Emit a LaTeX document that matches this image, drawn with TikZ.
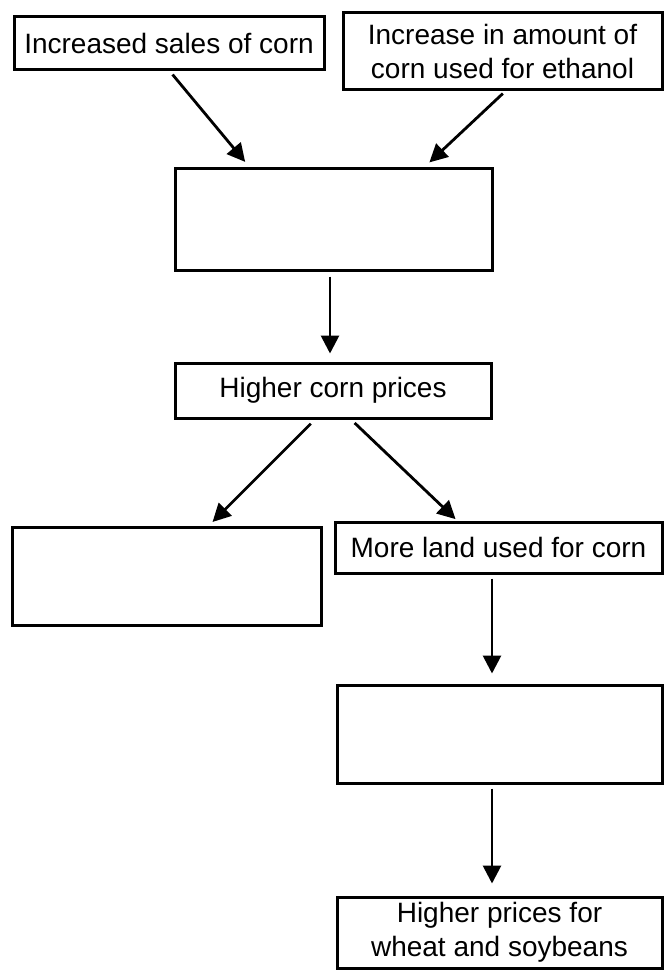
\documentclass[tikz,border=0pt]{standalone}
\usepackage{fontspec}
\setmainfont{Liberation Sans}
\usetikzlibrary{arrows.meta}
\begin{document}
\begin{tikzpicture}[x=1pt,y=-1pt,
  box/.style={draw=black, line width=3pt, inner sep=0pt, align=center,
    font=\fontsize{28}{34}\selectfont},
  arr/.style={line width=2.8pt, -{Triangle[length=18pt,width=18pt]}}]
\useasboundingbox (0,0) rectangle (668,971);
\fill[white] (0,0) rectangle (668,971);
\node[box, minimum width=310pt, minimum height=53pt] (b1) at (169,43.5) {Increased sales of corn};
\node[box, minimum width=319pt, minimum height=77pt] (b2) at (502.5,51.5) {Increase in amount of\\corn used for ethanol};
\node[box, minimum width=317pt, minimum height=102pt] (b3) at (333.5,219) {};
\node[box, minimum width=316pt, minimum height=55pt] (b4) at (333,390.5) {Higher corn prices};
\node[box, minimum width=309pt, minimum height=98pt] (b5) at (166.5,576) {};
\node[box, minimum width=327pt, minimum height=51pt] (b6) at (498.5,547.5) {More land used for corn};
\node[box, minimum width=325pt, minimum height=98pt] (b7) at (499.5,734) {};
\node[box, minimum width=325pt, minimum height=71pt] (b8) at (499.5,932.5) {Higher prices for\\wheat and soybeans};
\draw[arr, shorten <=4pt, shorten >=6pt] ([xshift=1pt]b1.south) -- ([xshift=-84.5pt]b3.north);
\draw[arr, shorten <=3pt, shorten >=6pt] ([xshift=2.5pt]b2.south) -- ([xshift=91.5pt]b3.north);
\draw[arr, shorten <=5pt, shorten >=8pt] ([xshift=-3.5pt]b3.south) -- ([xshift=-3pt]b4.north);
\draw[arr, shorten <=6pt, shorten >=5pt] ([xshift=-18pt]b4.south) -- ([xshift=42.5pt]b5.north);
\draw[arr, shorten <=5pt, shorten >=2pt] ([xshift=18pt]b4.south) -- ([xshift=-41.5pt]b6.north);
\draw[arr, shorten <=4pt, shorten >=10pt] ([xshift=-6.5pt]b6.south) -- ([xshift=-7.5pt]b7.north);
\draw[arr, shorten <=4pt, shorten >=12pt] ([xshift=-7.5pt]b7.south) -- ([xshift=-7.5pt]b8.north);
\end{tikzpicture}
\end{document}
